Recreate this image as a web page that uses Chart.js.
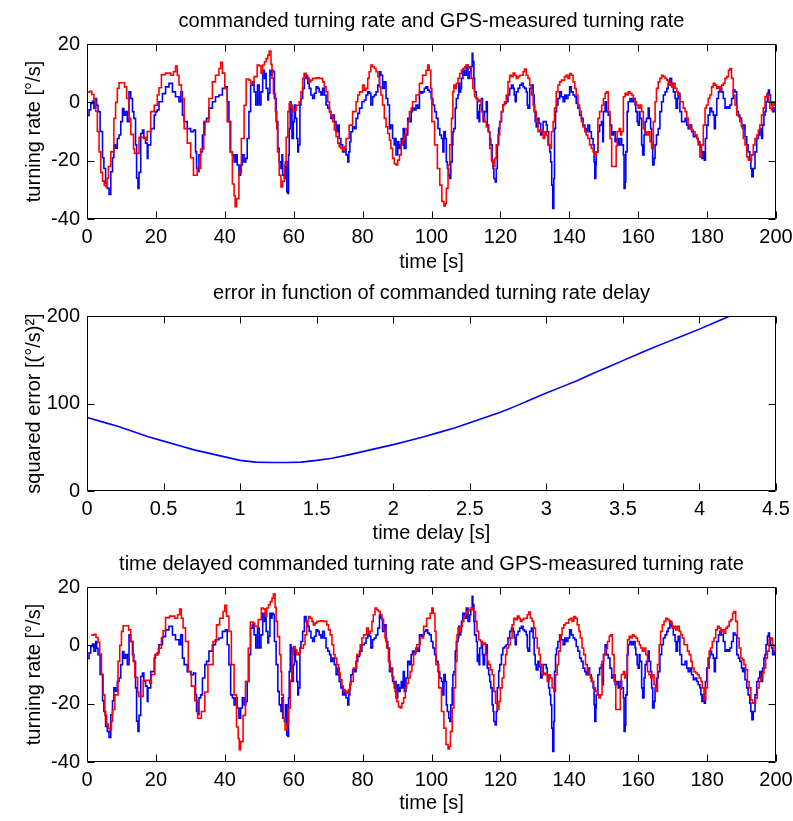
<!DOCTYPE html>
<html>
<head>
<meta charset="utf-8">
<script src="https://cdn.jsdelivr.net/npm/chart.js@4.4.1/dist/chart.umd.min.js"></script>
<style>
html,body{margin:0;padding:0;background:#fff;}
#wrap{position:relative;width:793px;height:821px;overflow:hidden;background:#fff;}
canvas{position:absolute;left:0;}
</style>
</head>
<body>
<div id="wrap">
<canvas id="c1" width="793" height="272" style="top:0px"></canvas>
<canvas id="c2" width="793" height="272" style="top:272px"></canvas>
<canvas id="c3" width="793" height="272" style="top:543px"></canvas>
</div>
<script>
// ---------- data ----------
const commandTime = [
0,0.8,1.4,2.0,2.5,3.0,3.5,4.0,4.5,5.0,
5.5,5.9,6.2,6.9,7.8,8.3,8.8,9.3,10.5,10.9,
11.5,12.2,12.7,13.5,13.8,14.8,15.1,16.1,17.0,17.5,
18.5,19.5,20.4,20.9,21.6,22.8,24.3,25.1,25.7,26.2,
26.7,27.4,28.2,29.1,30.1,30.9,31.5,32.0,33.0,33.9,
35.4,36.4,37.3,38.3,38.8,39.3,40.0,40.7,41.5,42.2,
42.7,43.0,43.4,44.1,44.8,45.6,46.2,47.0,47.5,48.5,
49.4,50.0,50.5,51.0,51.5,52.0,52.5,52.9,53.4,53.7,
54.1,54.7,55.1,55.3,55.8,56.3,56.8,57.3,57.8,58.3,
58.7,59.2,59.7,60.2,60.7,61.1,61.6,62.1,62.6,63.1,
63.6,64.1,64.5,65.0,65.5,66.5,67.4,68.4,68.9,69.4,
69.9,70.4,70.8,71.3,71.8,72.3,72.8,73.2,73.7,74.2,
74.7,75.2,76.1,77.1,78.1,78.6,79.1,80.0,80.5,81.0,
81.5,81.9,82.4,82.9,83.4,83.9,84.4,84.9,85.3,85.8,
86.3,86.8,87.3,87.8,88.2,88.7,89.2,89.7,90.2,90.7,
91.2,91.6,92.1,92.6,93.1,93.6,94.1,94.5,95.5,96.5,
97.4,98.4,98.9,99.3,99.8,100.1,100.9,101.7,102.4,103.0,
103.6,104.0,104.3,104.8,105.3,105.8,106.2,106.5,106.9,107.2,
107.7,108.2,108.7,109.1,109.6,110.1,110.6,111.1,111.6,112.0,
112.5,113.0,113.5,114.0,114.5,115.0,115.4,115.9,116.4,116.9,
117.4,117.9,118.4,118.8,119.3,119.8,120.3,120.7,121.2,121.7,
122.2,122.7,123.2,123.7,124.2,124.6,125.1,125.6,126.6,127.0,
127.5,128.0,128.5,129.0,129.5,130.0,130.4,130.9,131.4,131.9,
132.4,132.9,133.3,133.8,134.3,134.8,135.3,135.7,136.2,136.7,
137.2,137.7,138.6,139.1,139.6,140.1,140.6,141.1,141.6,142.0,
142.5,143.0,143.5,144.0,144.5,144.9,145.4,145.9,146.4,146.9,
147.4,147.8,148.3,148.8,149.4,149.9,150.4,150.8,151.3,151.8,
152.3,153.3,153.6,153.9,154.5,154.9,155.2,155.7,156.2,156.6,
157.1,157.6,158.1,158.6,159.1,159.5,160.0,160.5,161.0,161.5,
161.9,162.4,162.9,163.4,163.9,164.4,164.9,165.3,165.8,166.3,
166.8,167.3,167.8,168.3,168.7,169.2,169.7,170.2,170.7,171.2,
171.6,172.1,172.6,173.1,173.6,174.1,174.5,175.0,175.5,176.0,
176.5,177.0,177.4,177.9,178.4,178.9,179.4,179.8,180.3,180.8,
181.3,181.8,182.3,182.8,183.2,183.7,184.2,184.7,185.2,185.7,
186.2,186.6,187.1,187.6,188.1,188.6,189.1,189.5,190.0,190.5,
191.0,191.5,192.0,192.4,192.9,193.4,193.9,194.4,194.9,195.3,
195.8,196.3,196.8,197.3,197.8,198.2,198.7,199.0,199.5,200
];
const commandRate = [
3.5,3.8,2.7,1,-3,-10,-17,-24,-27,-28.5,
-29,-26,-22,-17,-5.5,0,4.8,6.7,6.7,5.3,
1.3,-5.5,-11,-16,-17.5,-17.5,-12,-12,-13,-10,
-3.2,-1,2.5,5,9.5,10,9.3,10.5,12.4,9.3,
6,1.3,-9,-14,-19,-25,-25,-22.7,-16,-6.6,
1.3,7,9.3,11.6,13.7,10,4.8,-6.6,-17,-28,
-32,-35.8,-33,-24,-12.4,-1,8,7.6,6.5,8.8,
12.8,12.5,10,12.8,13.9,15,16.2,17.6,13,8.2,
3,-3.2,-9,-17,-25,-29,-27,-21.5,-12,-3.2,
-0.4,-1.5,-3.2,-2.6,-1,-1,0.2,3.6,8.2,9.9,
9.3,8.2,7,7.6,8.2,8.4,8.2,7,5.3,3.6,
0.2,-3.2,-4.4,-6.6,-9.5,-11.8,-14,-15.2,-15.8,-16.4,
-15.2,-12.4,-7.8,-3.2,0.2,2.5,3.6,5.9,4.2,4.8,
8.2,10.5,12.8,12.2,11.6,10.5,8.8,5.3,2.5,-0.9,
-5.5,-8.4,-10.7,-13,-15.8,-19.2,-21,-21.5,-19.8,-18,
-14.6,-13,-11.2,-9,-6.6,-3.2,-2,0.2,2.5,6.5,
9.3,11,12.8,11,4.8,-6.6,-14.6,-22.7,-28.4,-34,
-35.5,-34.7,-29.5,-21.5,-14.6,-5.5,3.6,5.9,4.8,6.5,
8.2,9.9,11,11.6,12.2,12.8,12.2,11.6,8.2,4.8,
1.9,1.3,0.2,0.8,-3.2,-5.5,-6.6,-8.4,-10.1,-15.8,
-19.8,-22,-19.2,-14.6,-11.2,-6.6,-3.2,-0.9,0.2,2.5,
7,9.3,8.8,10,9.3,8.2,8.8,9.3,10.5,11.4,
9.3,8.2,5.9,2.5,-0.9,-3.2,-6.6,-10.1,-9.5,-10.1,
-12.4,-10.1,-11.2,-14.6,-15.8,-10.1,-6.6,-2,3.6,5.9,
7,7.6,8.8,9.3,8.2,9.9,9.3,7,4.8,2.5,
-0.9,-3.2,-6.6,-8.4,-10.1,-11.2,-12.4,-14.6,-15.8,-17,
-18,-17,-5.5,-3.2,-1,1.3,3.1,3.6,-3.2,-12.4,
-22,-22,-15,-10,-9,-11.2,-10,1.9,3.1,2.5,
3.6,3.1,2.5,1.3,0.2,-0.9,-2,-0.9,-3.2,-9,
-10.1,-11.2,-10.1,-13.5,-15.8,-6.6,0.2,4.8,7,8.2,
9.3,8.8,8.2,7.6,5.9,6.5,5.3,6.5,4.8,3.6,
2.5,0.2,0.2,-2,-3.2,-5.5,-7.8,-9,-9.5,-10.1,
-11.2,-12.4,-14.6,-18.7,-14.6,-7.8,-2,-0.9,1.3,2.5,
5.3,6.5,5.9,4.8,5.3,4.2,5.9,6.5,8.2,8.8,
11,11.6,8.2,2.5,-0.9,-4.4,-5,-6.6,-8.4,-12.4,
-14.6,-18.7,-19.8,-19.8,-18,-14.6,-12.4,-11.2,-9.5,-7.8,
-4.4,-2,1.9,2.5,0.2,-2,-2.6,0.2,-1,-1
];
const gpsTime = [
0.0,0.6,1.1,1.6,2.0,2.5,2.8,3.2,3.8,4.5,
4.9,5.4,5.9,6.4,6.9,7.4,7.8,8.3,8.8,9.3,
9.8,10.3,10.7,11.2,11.7,12.2,12.7,13.2,13.6,14.1,
14.4,14.8,15.1,15.6,16.1,16.5,17.0,17.5,17.7,18.5,
19.5,19.9,20.4,20.9,21.9,22.8,23.8,24.8,25.7,26.7,
27.2,27.7,28.2,29.1,30.1,30.9,31.5,31.8,32.2,32.5,
33.0,33.5,34.2,34.7,35.4,36.4,37.3,38.3,39.3,40.2,
40.7,41.2,41.7,42.2,42.7,43.2,43.6,44.1,44.6,45.1,
45.6,46.1,46.5,47.0,47.5,48.0,48.5,49.0,49.5,50.0,
50.5,51.0,51.5,51.8,52.0,52.5,52.7,53.1,53.4,53.7,
54.1,54.4,54.9,55.4,55.8,56.3,56.6,56.8,57.3,57.6,
58.0,58.3,58.5,58.7,59.0,59.2,59.5,59.9,60.2,60.5,
60.9,61.2,61.4,61.8,62.1,62.6,63.1,63.6,64.1,64.5,
65.0,65.5,66.0,66.5,67.0,67.4,67.9,68.4,68.9,69.4,
69.9,70.4,70.8,71.3,71.8,72.3,72.8,73.2,73.7,74.2,
74.7,75.2,75.7,76.0,76.3,76.6,77.1,77.6,78.1,78.6,
79.1,79.8,80.5,81.0,81.5,82.0,82.4,82.9,83.4,83.9,
84.4,84.9,85.3,85.8,86.3,86.8,87.3,87.8,88.2,88.7,
89.2,89.5,89.7,90.2,90.5,90.9,91.2,91.4,91.8,92.1,
92.6,93.1,93.6,94.1,94.5,95.0,95.5,96.0,96.5,97.0,
97.4,97.9,98.4,98.9,99.4,99.9,100.4,100.9,101.4,101.9,
102.4,102.9,103.3,103.6,104.0,104.3,104.6,105.0,105.3,105.6,
106.0,106.2,106.5,106.9,107.2,107.7,107.9,108.2,108.5,108.7,
109.1,109.6,110.1,110.6,111.1,111.4,111.8,112.0,112.3,112.5,
113.0,113.3,113.5,113.8,114.0,114.5,114.8,115.0,115.4,115.9,
116.2,116.6,116.9,117.2,117.6,117.9,118.1,118.5,118.8,119.1,
119.5,119.8,120.3,120.7,121.2,121.7,122.2,122.7,123.2,123.7,
124.0,124.3,124.6,125.1,125.6,126.1,126.6,127.0,127.5,127.8,
128.0,128.5,129.0,129.5,129.8,130.1,130.4,130.9,131.2,131.7,
132.1,132.4,132.8,133.3,133.6,134.0,134.3,134.6,134.9,135.2,
135.5,135.7,136.0,136.3,136.7,137.2,137.7,138.2,138.7,139.1,
139.6,140.1,140.6,141.1,141.6,142.0,142.5,143.0,143.5,144.0,
144.5,144.9,145.4,145.9,146.4,146.9,147.2,147.4,147.7,147.8,
148.3,148.8,149.3,149.7,149.9,150.4,150.8,151.3,151.8,152.3,
152.8,153.3,153.7,154.2,154.7,155.2,155.7,155.9,156.2,156.4,
156.8,157.1,157.6,158.1,158.6,159.1,159.3,159.7,160.0,160.3,
160.5,161.0,161.3,161.7,162.0,162.4,162.9,163.2,163.6,163.9,
164.2,164.6,164.9,165.3,165.8,166.3,166.8,167.3,167.8,168.3,
168.7,169.2,169.7,170.2,170.7,171.0,171.4,171.6,172.1,172.6,
173.1,173.6,174.1,174.5,175.0,175.5,176.0,176.5,177.0,177.4,
177.9,178.2,178.5,178.9,179.2,179.5,179.9,180.3,180.8,181.3,
181.8,182.1,182.4,182.8,183.3,183.7,184.2,184.7,185.2,185.7,
186.2,186.6,187.1,187.6,188.1,188.6,189.1,189.5,190.0,190.3,
190.7,191.0,191.5,191.9,192.4,192.7,193.0,193.4,193.9,194.4,
194.9,195.3,195.8,196.1,196.5,196.8,197.1,197.5,197.8,198.1,
198.4,198.7,199.0,199.5,200
];
const gpsRate = [
-4.5,-2.6,-0.4,0.4,-2,1.3,-1,-3.2,-10,-19,
-22.7,-27.8,-29.5,-31.6,-23.8,-19,-14.6,-15.7,-12.4,-11.2,
-6.6,-2.1,-4.4,-3.2,-6.6,3.6,1.3,-3.2,-5.5,-14.6,
-26,-29.5,-24,-10.7,-9.5,-12.4,-14,-19.2,-14.6,-9,
-4.4,-3.2,-2.6,0.2,3,5.3,6.5,3.6,1.9,0.2,
3.6,-4.4,-6.6,-9,-10.1,-9.5,-17,-22.7,-23.8,-18,
-17,-11.2,-6.6,-5.5,-2,0.2,1.9,2.5,4.8,5.3,
0.2,-6.6,-17,-18,-20.4,-18,-21.5,-25,-21.5,-18,
-20.4,-19.2,-12.4,-3.2,5.9,7,3.6,-0.9,5.9,-0.9,
3.6,11,8.2,9.9,4.8,0.8,3.1,11,9.3,11,
10.5,1.3,-6.6,-15.8,-20.4,-22.7,-18,-25,-26.1,-20.4,
-30.7,-31.2,-18,-9,0.2,-0.9,-12.4,-6.6,-0.9,-5.5,
-12.4,-17,-14.6,-0.9,1.3,4.8,9.9,8.2,6.5,4.8,
2.5,1.3,3.1,5.3,4.8,3.6,2.5,4.8,2.5,-0.9,
-2,-3.2,-5.5,-4.4,-6.6,-10.1,-7.8,-12.4,-14.6,-17,
-15.8,-18,-20.4,-17,-13.5,-10.1,-8.4,-9,-5.5,-3.8,
-2,0.2,0.8,2.5,3.6,3.1,-0.9,1.9,2.5,3.6,
5.9,10.5,9.3,4.8,7,1.3,-0.9,-9,-7.8,-12.4,
-14.6,-12.4,-18,-13.5,-15.8,-14.6,-12.4,-14.6,-9,-15.8,
-11.2,-5.5,-6.6,-3.2,-2,-2.6,-0.9,-2,3.6,3.1,
3.6,4.8,5.3,4.2,3.6,1.3,-0.9,-3.2,-5.5,-9,
-11.2,-12.4,-17,-10,-12.4,-20.4,-22.7,-25,-26.1,-20.4,
-14.6,-10.1,-9,-2,1.3,2.5,6.5,3.6,4.8,8.2,
11,9.3,12.8,8.2,10.5,12.2,16.8,14,8.2,3.6,
1.3,-5.5,-3.2,-6.6,-0.9,1.3,-3.2,-6.6,-3.2,0.2,
-7.8,-10.1,-12.4,-14.6,-20.4,-22.7,-26.1,-27.3,-22.7,-14.6,
-8.8,-6.6,-3.2,-0.9,-0.4,0.2,2.5,4.8,5.9,4.8,
2.5,0.2,3.6,4.8,5.9,6.5,5.3,4.8,3.6,-0.9,
-2,4.8,5.9,2.5,-3.2,-6.6,-8.4,-5.5,-7.2,-11.2,
-10.1,-6.6,-6.6,-7.8,-10.1,-14.6,-17,-20.4,-28.4,-36.4,
-26.1,-9,-3.2,-0.9,1.3,3.6,1.9,0.2,2.5,1.3,
2.5,5.3,3.6,2.5,1.9,-0.4,-2,-4.4,-5.5,-7.8,
-9,-10.1,-7.8,-10.1,-12.4,-14.6,-20.4,-26.1,-21.5,-17,
-10.1,-7.8,-6.6,-13.5,-3.2,0.2,-3.2,-4.4,-7.8,-11.2,
-10.1,-13.5,-12.4,-14.6,-12.4,-14.6,-18,-29.5,-27.3,-17,
-3.2,0.2,1.3,0.2,1.3,-0.9,-3.2,-6.6,-7.8,-3.2,
-5.5,-14.6,-18,-11.2,-6.6,-5.5,-2,-5.5,-9,-14.6,
-21.5,-19.2,-14.6,-11.2,-9,-3.2,0.2,2.5,3.6,4.8,
5.9,8.2,6.5,3.6,1.3,-2,1.3,3.1,-3.2,-6.6,
-6.6,-5.5,-7.8,-9,-7.8,-10.1,-11.8,-11.2,-12.4,-13.5,
-14.6,-16.9,-19.2,-17,-19.8,-12.4,-7.8,-4.4,-2,-3.2,
-4.4,-9,-4.4,1.3,3.6,4.8,3.6,1.3,-2,-1.5,
-2,-0.9,1.3,4.2,3.6,-3.2,-4.4,-5.5,-7.8,-9,
-7.8,-11.8,-14.6,-17,-19.8,-22.7,-25.5,-22.7,-17,-12.4,
-11.2,-9,-12.4,-7.8,-4.4,-3.2,0.2,3.1,4.2,2.5,
0.2,-0.9,-3.2,-2,-1
];
const commandDelay = 1.2;   // delay applied in the third panel [s]

const delayValues = [
0,0.1,0.2,0.3,0.4,0.5,0.6,0.7,0.8,0.9,
1.0,1.1,1.2,1.3,1.4,1.5,1.6,1.7,1.8,1.9,
2.0,2.1,2.2,2.3,2.4,2.5,2.6,2.7,2.8,2.9,
3.0,3.1,3.2,3.3,3.4,3.5,3.6,3.7,3.8,3.9,
4.0,4.1,4.2
];
const squaredError = [
84,79,74,68,62,57,52,47,43,39,
35,33,32.5,32.5,33,35,37.5,41,45,49,
53,57.5,62,67,72,78,84,90,97,104.5,
112,119,126,134,141.5,149,156.5,164,171,178,
185,192.5,200
];

const timeTicks = [0,20,40,60,80,100,120,140,160,180,200];
const rateTicks = [-40,-20,0,20];
const delayTicks = [0,0.5,1,1.5,2,2.5,3,3.5,4,4.5];
const errorTicks = [0,100,200];

// ---------- drawing ----------
const FONT = '"Liberation Sans", Arial, Helvetica, sans-serif';

const framePlugin = {
  id: 'matlabFrame',
  afterDatasetsDraw(chart) {
    const {ctx, chartArea: a, scales} = chart;
    const xs = scales.x, ys = scales.y;
    ctx.save();
    ctx.strokeStyle = '#000';
    ctx.lineWidth = 1;
    const L = Math.round(a.left) + 0.5, R = Math.round(a.right) - 0.5;
    const T = Math.round(a.top) + 0.5, B = Math.round(a.bottom) - 0.5;
    const len = 7;
    ctx.beginPath();
    ctx.rect(L, T, R - L, B - T);
    xs.ticks.forEach(t => {
      const p = Math.round(xs.getPixelForValue(t.value)) + 0.5;
      ctx.moveTo(p, B); ctx.lineTo(p, B - len);
      ctx.moveTo(p, T); ctx.lineTo(p, T + len);
    });
    ys.ticks.forEach(t => {
      const p = Math.round(ys.getPixelForValue(t.value)) + 0.5;
      ctx.moveTo(L, p); ctx.lineTo(L + len, p);
      ctx.moveTo(R, p); ctx.lineTo(R - len, p);
    });
    ctx.stroke();
    ctx.restore();
  }
};

function pairs(xs, ys, shift) {
  return xs.map((x, i) => ({x: x + (shift || 0), y: ys[i]}));
}

function makeChart(id, cfg) {
  const ctx = document.getElementById(id);
  return new Chart(ctx, {
    type: 'line',
    data: {datasets: cfg.datasets},
    options: {
      responsive: false,
      animation: false,
      events: [],
      devicePixelRatio: 1,
      layout: {padding: {top: 0, left: 0, right: 17, bottom: 0}},
      plugins: {
        legend: {display: false},
        tooltip: {enabled: false},
        title: {display: false}
      },
      elements: {point: {radius: 0}, line: {tension: 0}},
      scales: {
        // top axis only carries the panel title, centred over the plot box
        top: {
          type: 'linear', position: 'top', min: cfg.xMin, max: cfg.xMax,
          grid: {display: false, drawTicks: false},
          border: {display: false},
          ticks: {display: false},
          afterFit: s => { s.height = 44; s.paddingLeft = 0; s.paddingRight = 0; },
          title: {
            display: true, text: cfg.title, color: '#000',
            font: {family: FONT, size: 20, weight: 'normal', lineHeight: 1.2},
            padding: {top: 9, bottom: 0}
          }
        },
        x: {
          type: 'linear', position: 'bottom', min: cfg.xMin, max: cfg.xMax,
          grid: {display: false, drawTicks: false},
          border: {display: false},
          afterBuildTicks: s => { s.ticks = cfg.xTicks.map(v => ({value: v})); },
          afterFit: s => { s.height = 53; s.paddingLeft = 0; s.paddingRight = 0; },
          ticks: {
            color: '#000', padding: 6, maxRotation: 0, autoSkip: false,
            font: {family: FONT, size: 20, lineHeight: 1.2},
            callback: v => String(v)
          },
          title: {
            display: true, text: cfg.xTitle, color: '#000',
            font: {family: FONT, size: 20, lineHeight: 1},
            padding: {top: 0, bottom: cfg.xTitlePad}
          }
        },
        y: {
          type: 'linear', min: cfg.yMin, max: cfg.yMax,
          grid: {display: false, drawTicks: false},
          border: {display: false},
          afterBuildTicks: s => { s.ticks = cfg.yTicks.map(v => ({value: v})); },
          afterFit: s => { s.width = 87; s.paddingTop = 0; s.paddingBottom = 0; },
          ticks: {
            color: '#000', padding: 7, autoSkip: false,
            font: {family: FONT, size: 20, lineHeight: 1.2},
            callback: v => String(v)
          },
          title: {
            display: true, text: cfg.yTitle, color: '#000',
            font: {family: FONT, size: 20, lineHeight: 1},
            padding: {top: 24, bottom: 0}
          }
        }
      }
    },
    plugins: [framePlugin]
  });
}

const red = '#ff0000', blue = '#0000ff';

makeChart('c1', {
  title: 'commanded turning rate and GPS-measured turning rate',
  xTitle: 'time [s]', yTitle: 'turning rate [°/s]', xTitlePad: 0,
  xMin: 0, xMax: 200, yMin: -40, yMax: 20, xTicks: timeTicks, yTicks: rateTicks,
  datasets: [
    {label: 'commanded', data: pairs(commandTime, commandRate), borderColor: red, borderWidth: 1.6, stepped: true, fill: false},
    {label: 'GPS', data: pairs(gpsTime, gpsRate), borderColor: blue, borderWidth: 1.6, stepped: true, fill: false}
  ]
});

makeChart('c2', {
  title: 'error in function of commanded turning rate delay',
  xTitle: 'time delay [s]', yTitle: 'squared error [(°/s)²]', xTitlePad: 1,
  xMin: 0, xMax: 4.5, yMin: 0, yMax: 200, xTicks: delayTicks, yTicks: errorTicks,
  datasets: [
    {label: 'error', data: pairs(delayValues, squaredError), borderColor: blue, borderWidth: 1.6, fill: false}
  ]
});

makeChart('c3', {
  title: 'time delayed commanded turning rate and GPS-measured turning rate',
  xTitle: 'time [s]', yTitle: 'turning rate [°/s]', xTitlePad: 2,
  xMin: 0, xMax: 200, yMin: -40, yMax: 20, xTicks: timeTicks, yTicks: rateTicks,
  datasets: [
    {label: 'commanded (delayed)', data: pairs(commandTime, commandRate, commandDelay), borderColor: red, borderWidth: 1.6, stepped: true, fill: false},
    {label: 'GPS', data: pairs(gpsTime, gpsRate), borderColor: blue, borderWidth: 1.6, stepped: true, fill: false}
  ]
});
</script>
</body>
</html>
